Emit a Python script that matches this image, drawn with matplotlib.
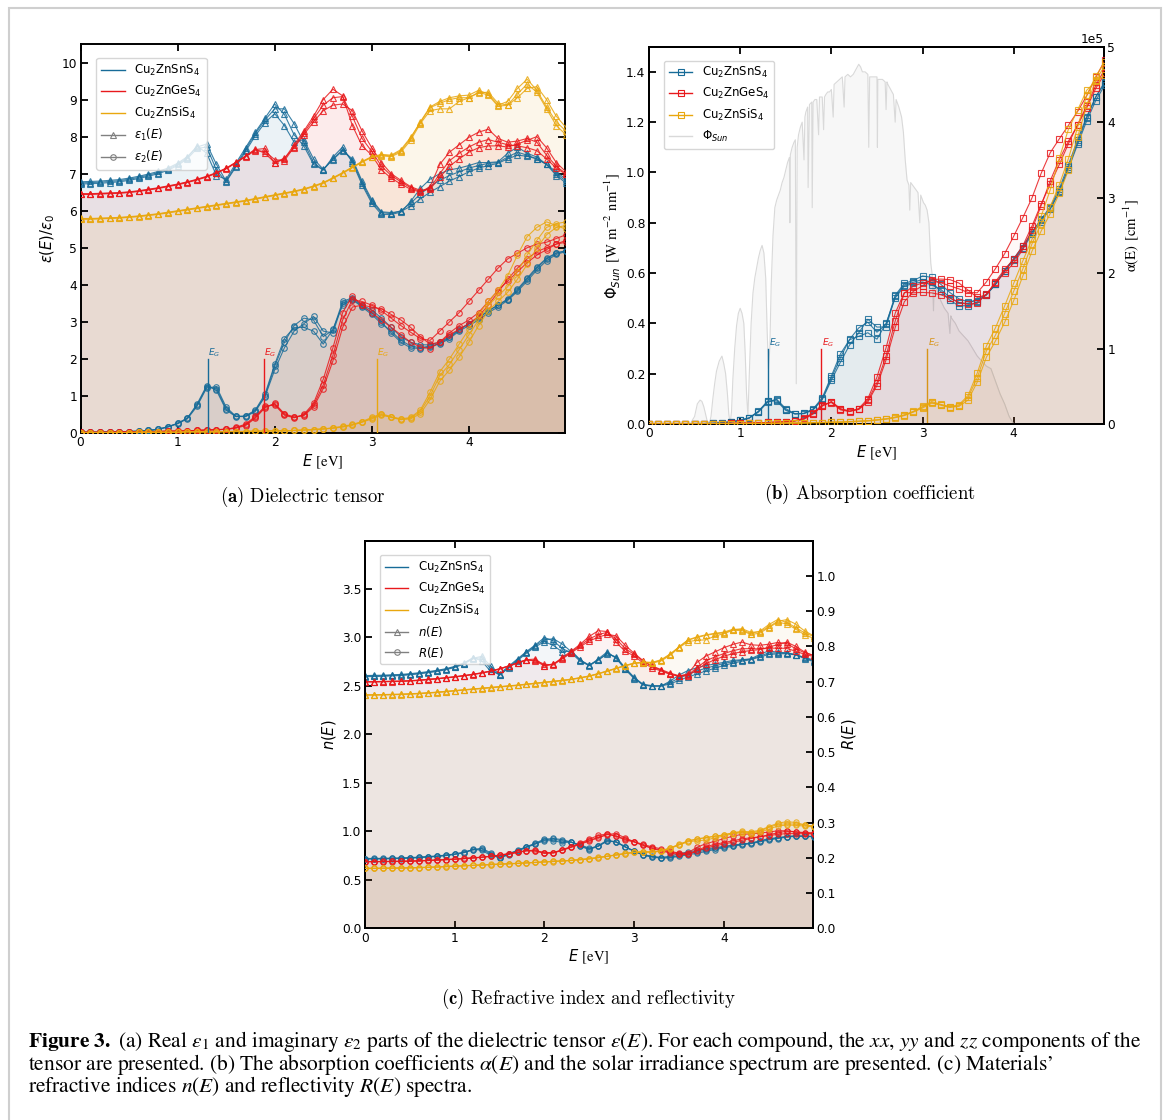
import numpy as np
import matplotlib
matplotlib.use('Agg')
import matplotlib.pyplot as plt
from matplotlib.lines import Line2D
from matplotlib.patches import Rectangle

plt.rcParams['font.family'] = ['DejaVu Sans']
plt.rcParams['mathtext.fontset'] = 'custom'
plt.rcParams['mathtext.rm'] = 'STIXGeneral'
plt.rcParams['mathtext.it'] = 'DejaVu Sans:italic'
plt.rcParams['mathtext.bf'] = 'STIXGeneral:bold'
plt.rcParams['mathtext.sf'] = 'DejaVu Sans'

# ---------------- data ----------------
energy = [0.0, 0.1, 0.2, 0.3, 0.4, 0.5, 0.6, 0.7, 0.8, 0.9, 1.0,
          1.1, 1.2, 1.3, 1.4, 1.5, 1.6, 1.7, 1.8, 1.9, 2.0,
          2.1, 2.2, 2.3, 2.4, 2.5, 2.6, 2.7, 2.8, 2.9, 3.0,
          3.1, 3.2, 3.3, 3.4, 3.5, 3.6, 3.7, 3.8, 3.9, 4.0,
          4.1, 4.2, 4.3, 4.4, 4.5, 4.6, 4.7, 4.8, 4.9, 5.0]

compounds = ['Cu$_\\mathsf{2}$ZnSnS$_\\mathsf{4}$', 'Cu$_\\mathsf{2}$ZnGeS$_\\mathsf{4}$',
             'Cu$_\\mathsf{2}$ZnSiS$_\\mathsf{4}$']
band_gaps = [1.31, 1.89, 3.05]

# real part eps1 (xx, yy, zz)
Sn_e1_xx = [6.75,6.76,6.77,6.79,6.81,6.85,6.90,6.96,7.03,7.12,7.25, 7.43,7.75,7.55,6.95,6.85,7.28,7.70,8.12,8.50,8.88, 8.60,8.05,7.75,7.25,7.10,7.45,7.72,7.30,6.70,6.20, 5.90,5.90,5.96,6.25,6.60,6.85,7.00,7.10,7.15,7.22, 7.30,7.30,7.32,7.55,7.72,7.55,7.45,7.25,6.95,6.75]
Sn_e1_yy = [6.78,6.79,6.80,6.82,6.84,6.88,6.93,6.99,7.06,7.15,7.28, 7.46,7.72,7.80,7.25,6.80,7.22,7.65,8.08,8.45,8.75, 8.75,8.35,7.85,7.30,7.10,7.40,7.65,7.35,6.75,6.25, 5.95,5.92,6.00,6.20,6.45,6.65,6.82,6.95,7.05,7.15, 7.22,7.28,7.30,7.45,7.58,7.50,7.40,7.25,7.00,6.80]
Sn_e1_zz = [6.72,6.73,6.74,6.76,6.78,6.82,6.87,6.93,7.00,7.09,7.22, 7.40,7.68,7.72,7.10,6.78,7.18,7.60,8.02,8.38,8.62, 8.30,7.85,7.92,7.40,7.12,7.38,7.62,7.40,6.80,6.30, 5.97,5.95,5.98,6.12,6.32,6.50,6.65,6.80,6.92,7.05, 7.15,7.22,7.28,7.40,7.50,7.47,7.40,7.25,7.05,6.85]
Ge_e1_xx = [6.45,6.45,6.46,6.47,6.48,6.50,6.53,6.57,6.61,6.66,6.71, 6.77,6.84,6.92,7.02,7.14,7.30,7.47,7.65,7.68,7.28, 7.40,7.78,8.15,8.55,9.00,9.28,9.10,8.30,7.75,7.50, 7.10,6.88,6.72,6.58,6.50,6.65,7.25,7.58,7.78,7.98, 8.12,8.20,7.95,7.85,7.88,7.95,7.85,7.50,7.20,7.00]
Ge_e1_yy = [6.44,6.44,6.45,6.46,6.47,6.49,6.52,6.56,6.60,6.65,6.70, 6.76,6.83,6.91,7.01,7.13,7.29,7.46,7.62,7.60,7.38, 7.35,7.72,8.10,8.48,8.85,9.05,9.08,8.55,7.95,7.60, 7.20,6.95,6.78,6.62,6.52,6.60,7.00,7.35,7.55,7.72, 7.85,7.92,7.85,7.78,7.75,7.70,7.62,7.40,7.15,6.98]
Ge_e1_zz = [6.46,6.46,6.47,6.48,6.49,6.51,6.54,6.58,6.62,6.67,6.72, 6.78,6.85,6.93,7.03,7.15,7.31,7.48,7.66,7.55,7.30, 7.42,7.70,8.05,8.40,8.70,8.85,8.88,8.70,8.15,7.70, 7.30,7.00,6.82,6.65,6.55,6.58,6.90,7.20,7.40,7.58, 7.70,7.75,7.75,7.72,7.80,7.90,8.00,7.70,7.30,7.05]
Si_e1_xx = [5.78,5.78,5.79,5.80,5.81,5.83,5.85,5.88,5.91,5.95,5.99, 6.03,6.07,6.11,6.15,6.19,6.23,6.27,6.32,6.37,6.42, 6.47,6.52,6.58,6.66,6.75,6.88,7.02,7.17,7.32,7.45, 7.50,7.48,7.62,7.95,8.40,8.80,8.95,9.05,9.10,9.12, 9.25,9.15,8.85,8.95,9.30,9.55,9.25,8.80,8.40,8.15]
Si_e1_yy = [5.77,5.77,5.78,5.79,5.80,5.82,5.84,5.87,5.90,5.94,5.98, 6.02,6.06,6.10,6.14,6.18,6.22,6.26,6.31,6.36,6.41, 6.46,6.51,6.57,6.65,6.74,6.87,7.01,7.16,7.31,7.44, 7.48,7.46,7.58,7.90,8.35,8.70,8.75,8.75,8.95,9.05, 9.20,9.12,8.82,8.85,9.15,9.42,9.20,8.75,8.30,8.05]
Si_e1_zz = [5.79,5.79,5.80,5.81,5.82,5.84,5.86,5.89,5.92,5.96,6.00, 6.04,6.08,6.12,6.16,6.20,6.24,6.28,6.33,6.38,6.43, 6.48,6.53,6.59,6.67,6.76,6.89,7.03,7.18,7.33,7.46, 7.52,7.50,7.65,7.98,8.38,8.78,8.90,9.00,9.05,9.05, 9.18,9.20,8.90,8.85,9.05,9.30,9.35,9.00,8.55,8.25]

# imaginary part eps2 (xx, yy, zz)
Sn_e2_xx = [0.02,0.02,0.02,0.03,0.03,0.04,0.05,0.07,0.10,0.17,0.26, 0.40,0.75,1.25,1.20,0.65,0.45,0.45,0.60,1.00,1.80, 2.45,2.90,3.10,3.05,2.60,2.78,3.55,3.65,3.45,3.32, 3.10,2.85,2.60,2.45,2.38,2.38,2.45,2.60,2.80,2.95, 3.10,3.30,3.45,3.60,3.85,4.15,4.45,4.70,4.85,4.92]
Sn_e2_yy = [0.02,0.02,0.02,0.03,0.03,0.04,0.05,0.07,0.10,0.16,0.25, 0.38,0.72,1.22,1.25,0.70,0.45,0.44,0.58,0.98,1.70, 2.30,2.75,2.95,3.15,2.75,2.70,3.50,3.62,3.42,3.25, 3.00,2.70,2.45,2.30,2.28,2.32,2.42,2.58,2.78,2.95, 3.12,3.30,3.45,3.62,3.88,4.18,4.48,4.72,4.86,4.92]
Sn_e2_zz = [0.02,0.02,0.02,0.03,0.03,0.04,0.05,0.07,0.10,0.17,0.26, 0.40,0.78,1.28,1.15,0.62,0.44,0.46,0.62,1.05,1.85, 2.55,2.85,2.85,2.75,2.40,2.80,3.45,3.60,3.40,3.20, 2.95,2.75,2.50,2.35,2.30,2.35,2.40,2.55,2.75,2.90, 3.05,3.25,3.40,3.58,3.82,4.10,4.40,4.65,4.82,4.90]
Ge_e2_xx = [0.02,0.02,0.02,0.02,0.03,0.03,0.03,0.04,0.04,0.05,0.05, 0.06,0.07,0.08,0.09,0.10,0.14,0.22,0.42,0.70,0.78, 0.50,0.42,0.48,0.75,1.30,2.10,3.05,3.60,3.55,3.45, 3.30,3.10,2.90,2.72,2.55,2.50,2.75,3.00,3.25,3.55, 3.85,4.15,4.45,4.70,4.85,5.00,5.10,5.15,5.25,5.35]
Ge_e2_yy = [0.02,0.02,0.02,0.02,0.03,0.03,0.03,0.04,0.04,0.05,0.05, 0.06,0.07,0.08,0.09,0.10,0.13,0.20,0.40,0.68,0.80, 0.52,0.43,0.47,0.70,1.20,1.95,2.85,3.40,3.45,3.40, 3.35,3.20,3.05,2.85,2.60,2.40,2.45,2.70,2.90,3.05, 3.25,3.55,3.85,4.10,4.35,4.60,4.80,4.95,5.10,5.20]
Ge_e2_zz = [0.02,0.02,0.02,0.02,0.03,0.03,0.03,0.04,0.04,0.05,0.05, 0.06,0.07,0.08,0.09,0.10,0.15,0.24,0.45,0.72,0.76, 0.48,0.41,0.50,0.80,1.45,2.30,3.25,3.70,3.45,3.25, 3.05,2.85,2.65,2.45,2.32,2.28,2.45,2.65,2.80,2.95, 3.15,3.45,3.80,4.15,4.45,4.70,4.90,5.00,5.10,5.15]
Si_e2_xx = [0.01,0.01,0.01,0.01,0.01,0.01,0.02,0.02,0.02,0.02,0.02, 0.03,0.03,0.03,0.03,0.04,0.04,0.04,0.05,0.05,0.06, 0.06,0.07,0.08,0.09,0.11,0.13,0.17,0.22,0.30,0.40, 0.50,0.42,0.36,0.40,0.58,1.00,1.55,1.85,2.25,2.65, 3.05,3.45,3.70,3.95,4.35,4.80,5.20,5.55,5.65,5.70]
Si_e2_yy = [0.01,0.01,0.01,0.01,0.01,0.01,0.02,0.02,0.02,0.02,0.02, 0.03,0.03,0.03,0.03,0.04,0.04,0.04,0.05,0.05,0.06, 0.06,0.07,0.08,0.09,0.11,0.13,0.16,0.21,0.29,0.38, 0.48,0.43,0.37,0.38,0.52,0.90,1.40,1.70,2.05,2.45, 2.90,3.30,3.55,3.80,4.15,4.55,5.00,5.35,5.55,5.60]
Si_e2_zz = [0.01,0.01,0.01,0.01,0.01,0.01,0.02,0.02,0.02,0.02,0.02, 0.03,0.03,0.03,0.03,0.04,0.04,0.04,0.05,0.05,0.06, 0.06,0.07,0.08,0.09,0.11,0.14,0.18,0.23,0.31,0.42, 0.52,0.44,0.38,0.42,0.62,1.10,1.65,2.00,2.40,2.80, 3.20,3.55,3.85,4.25,4.80,5.30,5.55,5.70,5.60,5.50]

# solar irradiance (AM1.5) vs photon energy
sun_E = [0.45,0.50,0.53,0.56,0.58,0.60,0.62,0.645,0.66,0.68,
         0.70,0.72,0.74,0.77,0.80,0.82,0.84,0.86,0.875,0.89,
         0.905,0.92,0.94,0.96,0.98,1.00,1.02,1.04,1.055,1.07,
         1.085,1.10,1.12,1.14,1.16,1.18,1.20,1.22,1.24,1.26,
         1.28,1.295,1.31,1.325,1.34,1.36,1.38,1.40,1.42,1.44,
         1.46,1.48,1.50,1.52,1.54,1.545,1.55,1.57,1.59,1.605,
         1.615,1.625,1.64,1.66,1.68,1.70,1.71,1.72,1.74,1.745,
         1.76,1.785,1.79,1.80,1.82,1.84,1.86,1.87,1.88,1.90,
         1.915,1.925,1.94,1.96,1.98,2.00,2.02,2.03,2.06,2.09,
         2.12,2.14,2.15,2.18,2.21,2.24,2.27,2.30,2.32,2.34,
         2.37,2.40,2.41,2.42,2.45,2.47,2.50,2.505,2.51,2.53,
         2.56,2.59,2.60,2.61,2.62,2.65,2.68,2.70,2.71,2.74,
         2.77,2.79,2.81,2.83,2.85,2.86,2.87,2.89,2.91,2.93,
         2.95,2.97,2.98,2.99,3.01,3.03,3.05,3.07,3.09,3.11,
         3.12,3.13,3.14,3.17,3.20,3.24,3.28,3.30,3.31,3.32,
         3.36,3.40,3.45,3.50,3.55,3.60,3.65,3.70,3.75,3.80,
         3.85,3.90,3.95,4.00]
sun_phi = [0.00,0.03,0.08,0.095,0.09,0.07,0.04,0.00,0.00,0.03,
           0.10,0.16,0.21,0.25,0.27,0.24,0.20,0.12,0.04,0.00,
           0.05,0.18,0.30,0.39,0.44,0.46,0.44,0.40,0.28,0.12,
           0.03,0.20,0.40,0.52,0.58,0.62,0.66,0.69,0.71,0.68,
           0.58,0.38,0.22,0.30,0.55,0.75,0.86,0.89,0.91,0.93,
           0.96,0.98,1.01,1.04,1.06,0.80,1.07,1.10,1.12,1.13,
           0.16,1.10,1.15,1.18,1.20,1.05,1.22,1.24,1.26,0.94,
           1.27,1.28,0.86,1.28,1.29,1.29,1.15,1.30,1.30,1.30,
           1.17,1.30,1.31,1.32,1.32,1.33,1.22,1.35,1.36,1.37,
           1.38,1.26,1.38,1.39,1.38,1.39,1.41,1.43,1.42,1.40,
           1.40,1.39,1.10,1.38,1.38,1.38,1.38,1.10,1.37,1.37,
           1.37,1.36,1.25,1.36,1.35,1.33,1.31,1.20,1.29,1.26,
           1.22,1.16,1.05,0.97,0.95,0.85,0.96,0.95,0.94,0.93,
           0.92,0.80,0.91,0.90,0.88,0.87,0.85,0.80,0.64,0.58,
           0.45,0.57,0.55,0.52,0.49,0.46,0.44,0.36,0.43,0.42,
           0.40,0.37,0.35,0.33,0.30,0.27,0.25,0.23,0.22,0.17,
           0.12,0.08,0.03,0.00]

# ---------------- helpers ----------------
E = np.array(energy)
colors = ['#176b98', '#e8191c', '#e9a70e']
eps1 = [[Sn_e1_xx, Sn_e1_yy, Sn_e1_zz], [Ge_e1_xx, Ge_e1_yy, Ge_e1_zz], [Si_e1_xx, Si_e1_yy, Si_e1_zz]]
eps2 = [[Sn_e2_xx, Sn_e2_yy, Sn_e2_zz], [Ge_e2_xx, Ge_e2_yy, Ge_e2_zz], [Si_e2_xx, Si_e2_yy, Si_e2_zz]]


def optics(e1, e2):
    e1 = np.asarray(e1, float)
    e2 = np.asarray(e2, float)
    mod = np.sqrt(e1 ** 2 + e2 ** 2)
    n = np.sqrt((mod + e1) / 2)
    k = np.sqrt((mod - e1) / 2)
    R = ((n - 1) ** 2 + k ** 2) / ((n + 1) ** 2 + k ** 2)
    alpha = 4 * np.pi * k * E / 1.23984e-4
    return n, R, alpha


W, H = 1168, 1120
fig = plt.figure(figsize=(W / 100, H / 100), dpi=100)
fig.patch.set_facecolor('white')

TICK = dict(direction='in', length=5, width=1.3, labelsize=8.8, pad=2.5)
LBL = 10.5
XMAX = 4.99


def spines(ax):
    for s in ax.spines.values():
        s.set_linewidth(1.4)


def ax_rect(l, t, r, b):
    return [l / W, 1 - b / H, (r - l) / W, (b - t) / H]


xlab = r'$E\ \mathrm{[eV]}$'
gray = '#808080'

# ---------------- (a) dielectric tensor ----------------
ax = fig.add_axes(ax_rect(80.5, 44, 565, 433))
FA = 0.028
for ci in range(3):
    for k in range(3):
        ax.fill_between(E, 0, eps1[ci][k], color=colors[ci], alpha=FA, lw=0, zorder=1)
        ax.fill_between(E, 0, eps2[ci][k], color=colors[ci], alpha=FA, lw=0, zorder=1)
for ci in range(3):
    for k in range(3):
        ax.plot(E, eps1[ci][k], color=colors[ci], lw=0.8, marker='^', ms=4, mfc='none', mew=0.8, alpha=0.85, zorder=3)
        ax.plot(E, eps2[ci][k], color=colors[ci], lw=0.8, marker='o', ms=4, mfc='none', mew=0.8, alpha=0.85, zorder=3)
    ax.plot([band_gaps[ci], band_gaps[ci]], [0, 2.0], color=colors[ci], lw=1.0, zorder=4)
    ax.text(band_gaps[ci] + 0.005, 2.0, r'$E_G$', color=colors[ci], fontsize=6.5, ha='left', va='bottom', zorder=4)
ax.set_xlim(0, XMAX)
ax.set_ylim(0, 10.5)
ax.set_xticks([0, 1, 2, 3, 4])
ax.set_yticks(range(0, 11))
ax.tick_params(top=True, right=True, **TICK)
spines(ax)
ax.set_xlabel(xlab, fontsize=LBL, labelpad=2)
ax.set_ylabel(r'$\varepsilon\mathsf{(}E\mathsf{)/}\varepsilon_\mathsf{0}$', fontsize=LBL, labelpad=3)
handles = [Line2D([], [], color=c, lw=1.0) for c in colors]
handles += [Line2D([], [], color=gray, lw=1.0, marker='^', ms=4, mfc='none', mew=0.8),
            Line2D([], [], color=gray, lw=1.0, marker='o', ms=4, mfc='none', mew=0.8)]
labels = compounds + [r'$\varepsilon_\mathsf{1}\mathsf{(}E\mathsf{)}$', r'$\varepsilon_\mathsf{2}\mathsf{(}E\mathsf{)}$']
leg = ax.legend(handles, labels, loc='upper left', bbox_to_anchor=(0.033, 0.964), borderaxespad=0,
                fontsize=8.5, frameon=True, edgecolor='#cccccc', framealpha=0.8)
leg.set_zorder(10)

# ---------------- (b) absorption ----------------
axb = fig.add_axes(ax_rect(649, 46.7, 1104, 424))
axb.fill_between(sun_E, 0, sun_phi, color='#f0f0f0', alpha=0.5, lw=0, zorder=1)
axb.plot(sun_E, sun_phi, color='#d9d9d9', lw=0.8, zorder=2)
for ci in range(3):
    axb.plot([band_gaps[ci], band_gaps[ci]], [0, 0.3], color=colors[ci], lw=1.0, zorder=4)
    axb.text(band_gaps[ci] + 0.005, 0.3, r'$E_G$', color=colors[ci], fontsize=6.5, ha='left', va='bottom', zorder=4)
axb.set_xlim(0, XMAX)
axb.set_ylim(0, 1.5)
axb.set_xticks([0, 1, 2, 3, 4])
axb.set_yticks([0.0, 0.2, 0.4, 0.6, 0.8, 1.0, 1.2, 1.4])
axb.tick_params(top=True, right=False, **TICK)
axb.set_xlabel(xlab, fontsize=LBL, labelpad=2)
axb.set_ylabel(r'$\mathsf{\Phi}_{Sun}\ \mathrm{[W\ m^{-2}\ nm^{-1}]}$', fontsize=LBL, labelpad=3)

axb2 = axb.twinx()
for ci in range(3):
    for k in range(3):
        n_, R_, a_ = optics(eps1[ci][k], eps2[ci][k])
        axb2.fill_between(E, 0, a_, color=colors[ci], alpha=FA, lw=0, zorder=1)
for ci in range(3):
    for k in range(3):
        n_, R_, a_ = optics(eps1[ci][k], eps2[ci][k])
        axb2.plot(E, a_, color=colors[ci], lw=0.8, marker='s', ms=4.3, mfc='none', mew=0.8, alpha=0.85, zorder=3)
axb2.set_ylim(0, 5e5)
axb2.set_xlim(0, XMAX)
axb2.ticklabel_format(axis='y', style='sci', scilimits=(0, 0))
axb2.yaxis.get_offset_text().set_fontsize(8.8)
axb2.tick_params(right=True, left=False, top=True, **TICK)
axb2.set_ylabel(r'$\mathrm{\alpha(E)\ [cm^{-1}]}$', fontsize=LBL, labelpad=4)
spines(axb2)
spines(axb)
hb = [Line2D([], [], color=c, lw=1.0, marker='s', ms=4.3, mfc='none', mew=0.8) for c in colors]
hb += [Line2D([], [], color='#d9d9d9', lw=1.0)]
legb = axb2.legend(hb, compounds + [r'$\mathsf{\Phi}_{Sun}$'], loc='upper left', bbox_to_anchor=(0.033, 0.963),
                   borderaxespad=0, fontsize=8.5, edgecolor='#cccccc', framealpha=0.8)
legb.set_zorder(10)

# ---------------- (c) refractive index / reflectivity ----------------
axc = fig.add_axes(ax_rect(365, 541, 812.7, 928.3))
axc2 = axc.twinx()
FC = 0.016
for ci in range(3):
    for k in range(3):
        n_, R_, a_ = optics(eps1[ci][k], eps2[ci][k])
        axc.fill_between(E, 0, n_, color=colors[ci], alpha=FC, lw=0, zorder=1)
        axc2.fill_between(E, 0, R_, color=colors[ci], alpha=FC, lw=0, zorder=1)
for ci in range(3):
    for k in range(3):
        n_, R_, a_ = optics(eps1[ci][k], eps2[ci][k])
        axc.plot(E, n_, color=colors[ci], lw=0.8, marker='^', ms=3.8, mfc='none', mew=0.8, alpha=0.85, zorder=3)
        axc2.plot(E, R_, color=colors[ci], lw=0.8, marker='o', ms=3.8, mfc='none', mew=0.8, alpha=0.85, zorder=3)
axc.set_xlim(0, XMAX)
axc.set_ylim(0, 3.99)
axc.set_xticks([0, 1, 2, 3, 4])
axc.set_yticks([0.0, 0.5, 1.0, 1.5, 2.0, 2.5, 3.0, 3.5])
axc.tick_params(top=True, right=False, **TICK)
axc.set_xlabel(xlab, fontsize=LBL, labelpad=2)
axc.set_ylabel(r'$n\mathsf{(}E\mathsf{)}$', fontsize=LBL, labelpad=3)
axc2.set_ylim(0, 1.099)
axc2.set_xlim(0, XMAX)
axc2.set_yticks([0.0, 0.1, 0.2, 0.3, 0.4, 0.5, 0.6, 0.7, 0.8, 0.9, 1.0])
axc2.tick_params(right=True, left=False, top=True, **TICK)
axc2.set_ylabel(r'$R\mathsf{(}E\mathsf{)}$', fontsize=LBL, labelpad=3)
spines(axc)
spines(axc2)
hc = [Line2D([], [], color=c, lw=1.0) for c in colors]
hc += [Line2D([], [], color=gray, lw=1.0, marker='^', ms=4, mfc='none', mew=0.8),
       Line2D([], [], color=gray, lw=1.0, marker='o', ms=4, mfc='none', mew=0.8)]
legc = axc2.legend(hc, compounds + [r'$n\mathsf{(}E\mathsf{)}$', r'$R\mathsf{(}E\mathsf{)}$'], loc='upper left',
                   bbox_to_anchor=(0.0335, 0.964), borderaxespad=0, fontsize=8.5,
                   edgecolor='#cccccc', framealpha=0.8)
legc.set_zorder(10)

# ---------------- captions ----------------
CAPFS = 13.5
fig.text(303 / W, 1 - 497 / H, r'$\mathbf{(a)}$ Dielectric tensor', fontsize=CAPFS, family='cmr10',
         math_fontfamily='cm', ha='center', va='center')
fig.text(870 / W, 1 - 494 / H, r'$\mathbf{(b)}$ Absorption coefficient', fontsize=CAPFS, family='cmr10',
         math_fontfamily='cm', ha='center', va='center')
fig.text(589 / W, 1 - 999 / H, r'$\mathbf{(c)}$ Refractive index and reflectivity', fontsize=CAPFS,
         family='cmr10', math_fontfamily='cm', ha='center', va='center')

cap_lines = [
    r'$\mathbf{Figure\ 3.}$ (a) Real $\epsilon_1$ and imaginary $\epsilon_2$ parts of the dielectric tensor '
    r'$\epsilon(E)$. For each compound, the $xx$, $yy$ and $zz$ components of the',
    r'tensor are presented. (b) The absorption coefficients $\alpha(E)$ and the solar irradiance spectrum are '
    r'presented. (c) Materials' + '\u2019',
    r'refractive indices $n(E)$ and reflectivity $R(E)$ spectra.',
]
cap = fig.text(28 / W, 1 - 1031 / H, '\n'.join(cap_lines), fontsize=12, family='STIXGeneral',
               math_fontfamily='stix', ha='left', va='top', linespacing=1.0)
fig.canvas.draw()
r = fig.canvas.get_renderer()
w0 = cap.get_window_extent(r).width
cap.set_fontsize(12 * 1110 / w0)
# tune line spacing so that baselines are ~22.5 px apart, then put the first baseline at y = 1047 px
try:
    L = 1.0
    for _ in range(8):
        cap.set_linespacing(L)
        _, info, _ = cap._get_layout(r)
        ys = [it[-1] for it in info]
        sp = (ys[0] - ys[1])
        if abs(sp - 22.5) < 0.3:
            break
        L = max(0.5, L + (22.5 - sp) / 16.0)
    _, info, _ = cap._get_layout(r)
    y0 = info[0][-1]
    cap.set_y(1 - (1047 + y0) / H)
except Exception:
    cap.set_linespacing(0.9)
    cap.set_y(1 - 1031 / H)

# outer frame
fig.add_artist(Rectangle((9 / W, -0.02), (1161 - 9) / W, 1.02 - 8 / H, transform=fig.transFigure,
                         fill=False, edgecolor='#cfcfcf', lw=1.5))

fig.savefig('out.png', dpi=100, facecolor='white')
